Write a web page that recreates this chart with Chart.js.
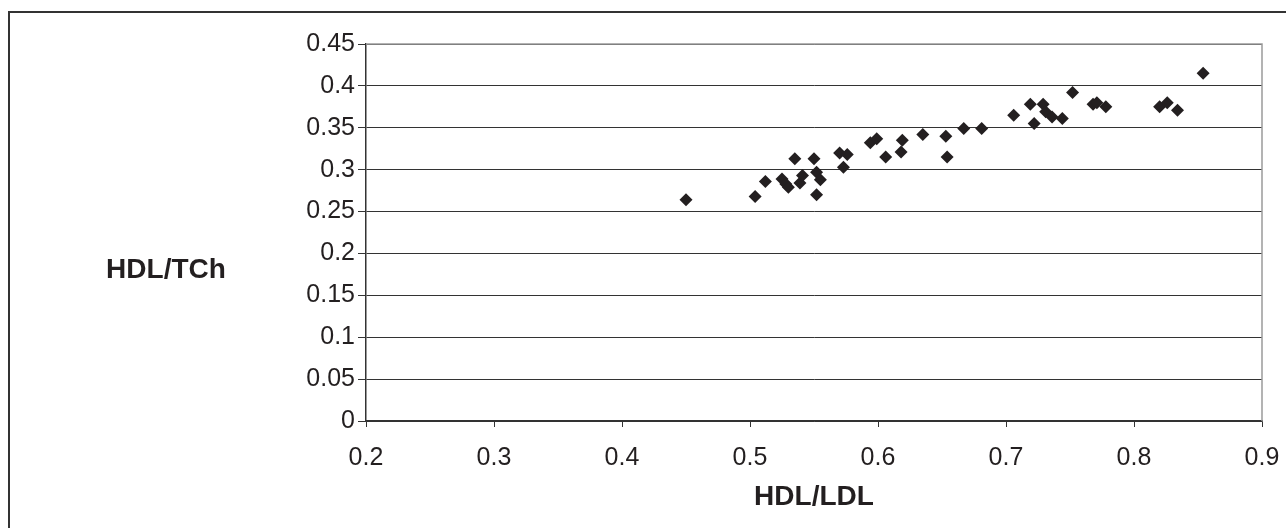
<!DOCTYPE html>
<html>
<head>
<meta charset="utf-8">
<script src="https://cdn.jsdelivr.net/npm/chart.js@4.4.1/dist/chart.umd.min.js"></script>
<style>
  html, body { margin: 0; padding: 0; background: #fff; }
  #wrap { position: relative; width: 1286px; height: 528px; }
</style>
</head>
<body>
<div id="wrap"><canvas id="scatterChart" width="1286" height="528"></canvas></div>
<script>
// valores
var hdlLdl = [0.450, 0.504, 0.512, 0.525, 0.528, 0.530, 0.535, 0.539, 0.541, 0.550,
              0.552, 0.555, 0.552, 0.570, 0.576, 0.573, 0.594, 0.599, 0.606, 0.618,
              0.619, 0.635, 0.653, 0.654, 0.667, 0.681, 0.706, 0.719, 0.722, 0.729,
              0.731, 0.736, 0.744, 0.752, 0.768, 0.771, 0.778, 0.820, 0.826, 0.834, 0.854];
var hdlTch = [0.264, 0.268, 0.286, 0.289, 0.283, 0.279, 0.313, 0.284, 0.293, 0.313,
              0.297, 0.288, 0.270, 0.320, 0.318, 0.303, 0.332, 0.337, 0.315, 0.321,
              0.335, 0.342, 0.340, 0.315, 0.349, 0.349, 0.365, 0.378, 0.355, 0.378,
              0.369, 0.363, 0.361, 0.392, 0.378, 0.380, 0.375, 0.375, 0.380, 0.371, 0.415];
var xTitle = 'HDL/LDL';
var yTitle = 'HDL/TCh';

var points = hdlLdl.map(function (x, i) { return { x: x, y: hdlTch[i] }; });

function fmt(v) { return String(+v.toFixed(2)); }

// marco exterior, borde gris del area y titulos de ejes
var decoraciones = {
  id: 'decoraciones',
  beforeDraw: function (chart) {
    var ctx = chart.ctx;
    ctx.save();
    ctx.fillStyle = '#fff';
    ctx.fillRect(0, 0, chart.width, chart.height);
    ctx.strokeStyle = '#333';
    ctx.lineWidth = 2;
    ctx.beginPath();
    ctx.moveTo(9, 528);
    ctx.lineTo(9, 12);
    ctx.lineTo(1286, 12);
    ctx.stroke();
    ctx.restore();
  },
  afterDraw: function (chart) {
    var ctx = chart.ctx, a = chart.chartArea;
    ctx.save();
    ctx.strokeStyle = '#9a9a9a';
    ctx.lineWidth = 1.5;
    ctx.beginPath();
    ctx.moveTo(a.left, a.top);
    ctx.lineTo(a.right, a.top);
    ctx.lineTo(a.right, a.bottom);
    ctx.stroke();
    ctx.fillStyle = '#231f20';
    ctx.font = 'bold 28px "Liberation Sans", Arial, sans-serif';
    ctx.textAlign = 'center';
    ctx.textBaseline = 'middle';
    ctx.fillText(yTitle, 166, 270);
    ctx.fillText(xTitle, (a.left + a.right) / 2, 497);
    ctx.restore();
  }
};

var ctx = document.getElementById('scatterChart').getContext('2d');
new Chart(ctx, {
  type: 'scatter',
  data: {
    datasets: [{
      label: yTitle,
      data: points,
      pointStyle: 'rectRot',
      pointRadius: 6.5,
      pointHoverRadius: 6.5,
      backgroundColor: '#231f20',
      borderColor: '#231f20',
      borderWidth: 0
    }]
  },
  options: {
    responsive: false,
    animation: false,
    layout: { padding: { left: 0, right: 24, top: 44, bottom: 0 } },
    plugins: { legend: { display: false }, tooltip: { enabled: false } },
    scales: {
      x: {
        type: 'linear',
        min: 0.2,
        max: 0.9,
        afterFit: function (s) { s.height = 107; s.paddingLeft = 0; s.paddingRight = 0; },
        ticks: {
          stepSize: 0.1,
          color: '#231f20',
          font: { size: 25, family: '"Liberation Sans", Arial, sans-serif' },
          padding: 16,
          maxRotation: 0,
          callback: function (v) { return fmt(v); }
        },
        grid: { drawOnChartArea: false, drawTicks: true, tickLength: 6, color: '#333', lineWidth: 1 },
        border: { display: true, color: '#333', width: 1.5 }
      },
      y: {
        min: 0,
        max: 0.45,
        afterFit: function (s) { s.width = 366; s.paddingTop = 0; s.paddingBottom = 0; },
        ticks: {
          stepSize: 0.05,
          color: '#231f20',
          font: { size: 25, family: '"Liberation Sans", Arial, sans-serif' },
          padding: 3,
          callback: function (v) { return fmt(v); }
        },
        grid: { color: '#333', lineWidth: 1, tickLength: 8 },
        border: { display: true, color: '#333', width: 1.5 }
      }
    }
  },
  plugins: [decoraciones]
});
</script>
</body>
</html>
